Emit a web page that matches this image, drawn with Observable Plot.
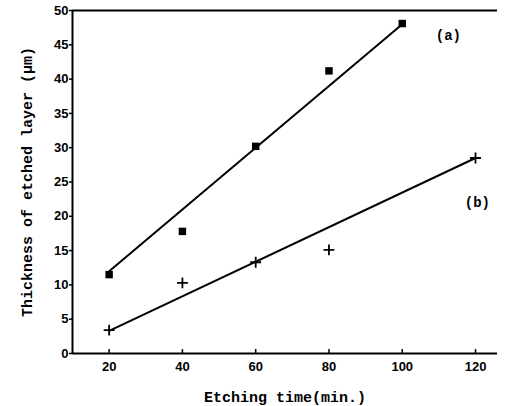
<!DOCTYPE html>
<html>
<head>
<meta charset="utf-8">
<script src="https://cdn.jsdelivr.net/npm/d3@7"></script>
<script src="https://cdn.jsdelivr.net/npm/@observablehq/plot@0.6"></script>
<style>
  html, body { margin: 0; padding: 0; background: #fff; }
  svg { display: block; }
</style>
</head>
<body>
<div id="chart"></div>
<script>
// Data
const timesA = [20, 40, 60, 80, 100];
const thickA = [11.5, 17.8, 30.2, 41.2, 48.1];
const timesB = [20, 40, 60, 80, 120];
const thickB = [3.4, 10.3, 13.3, 15.1, 28.5];
// fitted straight lines (end points)
const fitAX = [20, 100];
const fitAY = [12.0, 48.0];
const fitBX = [20, 120];
const fitBY = [3.3, 28.5];
// series labels and their anchor positions (data units)
const seriesLabels = ["(a)", "(b)"];
const labelX = [112.6, 120.5];
const labelY = [46.4, 22.0];
// ticks
const xTicks = [20, 40, 60, 80, 100, 120];
const yTicks = [0, 5, 10, 15, 20, 25, 30, 35, 40, 45, 50];

const ptsA = timesA.map((t, i) => ({t, v: thickA[i]}));
const ptsB = timesB.map((t, i) => ({t, v: thickB[i]}));
const lineA = fitAX.map((t, i) => ({t, v: fitAY[i]}));
const lineB = fitBX.map((t, i) => ({t, v: fitBY[i]}));
const labs = seriesLabels.map((s, i) => ({s, t: labelX[i], v: labelY[i]}));

const chart = Plot.plot({
  width: 505,
  height: 406,
  marginLeft: 72,
  marginRight: 8,
  marginTop: 10,
  marginBottom: 53,
  style: {background: "#fff", color: "#000"},
  x: {domain: [10, 126]},
  y: {domain: [0, 50]},
  marks: [
    Plot.axisY({
      ticks: yTicks, tickSize: 3, tickPadding: 1, strokeWidth: 1.5,
      label: "Thickness of etched layer (\u03bcm)",
      labelAnchor: "center", labelArrow: "none", labelOffset: 51,
      fontFamily: "'Liberation Sans', Arial, sans-serif", fontWeight: "bold", fontSize: 13
    }),
    Plot.axisX({
      ticks: xTicks, tickSize: 0, tickPadding: 8,
      label: "Etching time(min.)",
      labelAnchor: "center", labelArrow: "none", labelOffset: 48,
      fontFamily: "'Liberation Sans', Arial, sans-serif", fontWeight: "bold", fontSize: 13
    }),
    Plot.ruleX(xTicks, {x: d => d, y1: 0, y2: 0, insetTop: -4, strokeWidth: 1.5}),
    Plot.ruleY([0, 50], {strokeWidth: 2}),
    Plot.ruleX([10], {strokeWidth: 2}),
    Plot.line(lineA, {x: "t", y: "v", stroke: "#000", strokeWidth: 2}),
    Plot.line(lineB, {x: "t", y: "v", stroke: "#000", strokeWidth: 2}),
    Plot.dot(ptsA, {x: "t", y: "v", symbol: "square", fill: "#000", r: 4.2}),
    Plot.dot(ptsB, {x: "t", y: "v", symbol: "plus", stroke: "#000", strokeWidth: 1.8, r: 3.6}),
    Plot.text(labs, {x: "t", y: "v", text: "s", fontFamily: "'Liberation Mono', monospace",
      fontWeight: "bold", fontSize: 14, fill: "#000"})
  ]
});

// Style the axis titles as bold typewriter text
chart.querySelectorAll("[aria-label='x-axis label'] text, [aria-label='y-axis label'] text").forEach(t => {
  t.setAttribute("font-family", "'Liberation Mono', 'DejaVu Sans Mono', monospace");
  t.setAttribute("font-size", "15");
  t.setAttribute("font-weight", "bold");
  t.style.fontFamily = "'Liberation Mono', 'DejaVu Sans Mono', monospace";
  t.style.fontSize = "15px";
});
document.getElementById("chart").appendChild(chart);
</script>
</body>
</html>
